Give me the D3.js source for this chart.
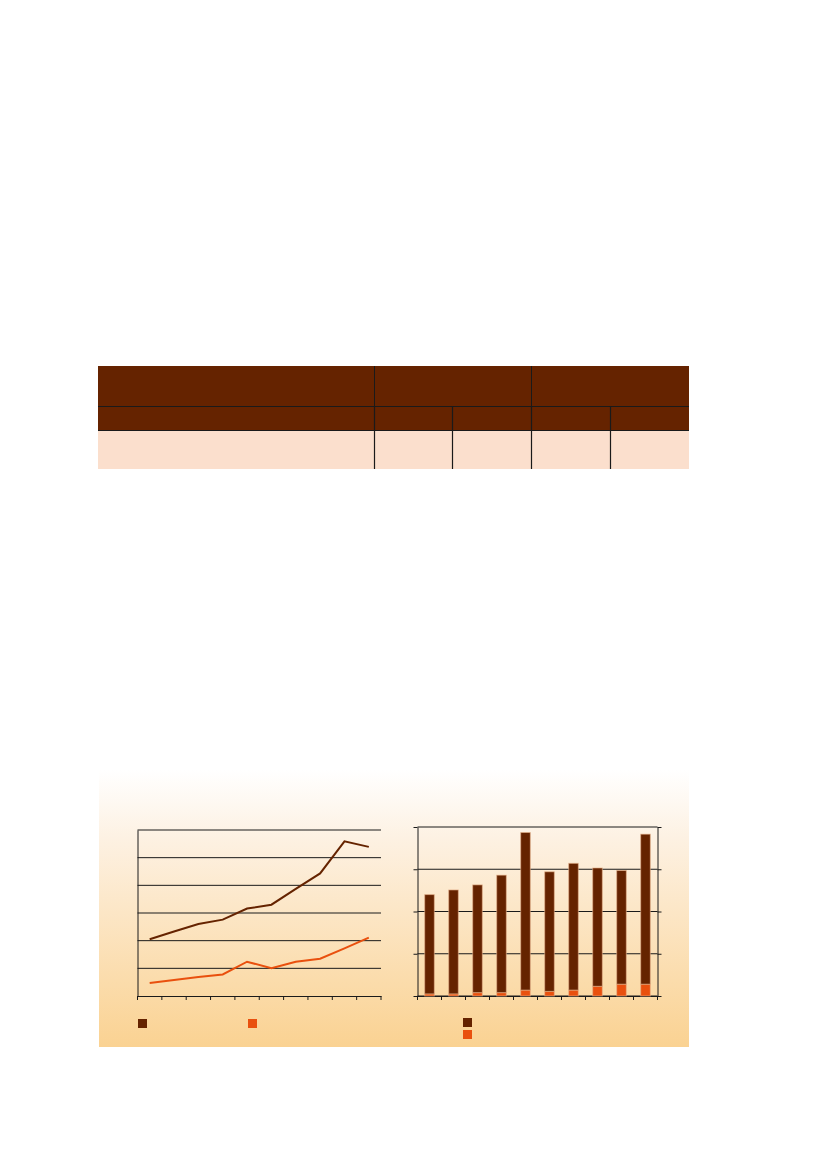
<!DOCTYPE html>
<html>
<head>
<meta charset="utf-8">
<script src="https://cdn.jsdelivr.net/npm/d3@7"></script>
<style>
  html, body { margin: 0; padding: 0; background: #fff; }
  svg { display: block; }
</style>
</head>
<body>
<div id="page"></div>
<script>
// ---- data (no labels visible in the reference) ----
var years = ["y1", "y2", "y3", "y4", "y5", "y6", "y7", "y8", "y9", "y10"];

// line chart: two series, axis 0..60
var lineDark = [20.5, 23.3, 26.0, 27.6, 31.6, 33.0, 38.7, 44.3, 55.9, 53.9];
var lineOrange = [4.7, 5.8, 6.9, 7.8, 12.4, 10.0, 12.4, 13.5, 17.2, 21.1];

// stacked bars: axis 0..400
var barBase = [5, 5, 8, 8, 14, 11, 14, 23, 28, 28];
var barTop = [235, 246, 255, 278, 373, 283, 300, 280, 269, 355];

// table: column widths of the 5 columns
var tableCols = [276, 78, 79, 79, 79];

var dark = "#652300", orange = "#E9500E", pink = "#FBDFCD", ink = "#1a1a1a";

var W = 827, H = 1169;
var svg = d3.select("#page").append("svg")
    .attr("width", W)
    .attr("height", H);

// ---- table ----
var tx = 98, ty = 366;
var rowH = [40, 24, 39];
var colX = [tx];
tableCols.forEach(function(w, i) { colX.push(colX[i] + w); });
var tRight = colX[colX.length - 1];

var table = svg.append("g").attr("class", "table");
table.append("rect").attr("x", tx).attr("y", ty).attr("width", tRight - tx).attr("height", rowH[0] + rowH[1]).attr("fill", dark);
table.append("rect").attr("x", tx).attr("y", ty + rowH[0] + rowH[1]).attr("width", tRight - tx).attr("height", rowH[2]).attr("fill", pink);

// horizontal rules
[ty + rowH[0], ty + rowH[0] + rowH[1]].forEach(function(y) {
    table.append("line").attr("x1", tx).attr("x2", tRight).attr("y1", y + 0.5).attr("y2", y + 0.5)
        .attr("stroke", ink).attr("stroke-width", 1);
});
// vertical rules: header spans
[colX[1], colX[3]].forEach(function(x) {
    table.append("line").attr("x1", x + 0.5).attr("x2", x + 0.5).attr("y1", ty).attr("y2", ty + rowH[0])
        .attr("stroke", ink).attr("stroke-width", 1);
});
colX.slice(1, 5).forEach(function(x) {
    table.append("line").attr("x1", x + 0.5).attr("x2", x + 0.5).attr("y1", ty + rowH[0]).attr("y2", ty + rowH[0] + rowH[1] + rowH[2])
        .attr("stroke", ink).attr("stroke-width", 1.2);
});

// ---- chart panel with gradient ----
var defs = svg.append("defs");
var grad = defs.append("linearGradient").attr("id", "panelGrad")
    .attr("x1", 0).attr("y1", 0).attr("x2", 0).attr("y2", 1);
grad.append("stop").attr("offset", "0%").attr("stop-color", "#ffffff");
grad.append("stop").attr("offset", "25%").attr("stop-color", "#fdf1e2");
grad.append("stop").attr("offset", "100%").attr("stop-color", "#fad292");

svg.append("rect")
    .attr("x", 99).attr("y", 770)
    .attr("width", 590).attr("height", 277)
    .attr("fill", "url(#panelGrad)");

// ---- line chart ----
var lm = {left: 137.5, right: 381, top: 830, bottom: 996};
var lx = d3.scaleBand().domain(years).range([lm.left, lm.right]);
var ly = d3.scaleLinear().domain([0, 60]).range([lm.bottom, lm.top]);

var lg = svg.append("g");
lg.append("g")
    .selectAll("line")
    .data(ly.ticks(6).filter(function(d) { return d > 0; }))
    .enter().append("line")
    .attr("x1", lm.left).attr("x2", lm.right)
    .attr("y1", function(d) { return ly(d); }).attr("y2", function(d) { return ly(d); })
    .attr("stroke", ink).attr("stroke-width", 1);

lg.append("g")
    .attr("transform", "translate(0," + lm.bottom + ")")
    .call(d3.axisBottom(lx).tickSize(0).tickFormat(""))
    .call(function(g) {
        g.select(".domain").attr("stroke", ink);
        var edges = years.map(function(d) { return lx(d); }).concat([lm.right]);
        g.selectAll(".edge").data(edges).enter().append("line")
            .attr("class", "edge")
            .attr("x1", function(d) { return d; }).attr("x2", function(d) { return d; })
            .attr("y1", 0).attr("y2", 4).attr("stroke", ink);
    });

lg.append("g")
    .attr("transform", "translate(" + lm.left + ",0)")
    .call(d3.axisLeft(ly).ticks(6).tickSize(0).tickFormat(""))
    .call(function(g) { g.select(".domain").attr("stroke", ink); });

var line = d3.line()
    .x(function(d, i) { return lx(years[i]) + lx.bandwidth() / 2; })
    .y(function(d) { return ly(d); });

lg.append("path").datum(lineDark).attr("d", line)
    .attr("fill", "none").attr("stroke", dark).attr("stroke-width", 2);
lg.append("path").datum(lineOrange).attr("d", line)
    .attr("fill", "none").attr("stroke", orange).attr("stroke-width", 2);

// legend squares
[[138, dark], [248, orange]].forEach(function(s) {
    lg.append("rect").attr("x", s[0]).attr("y", 1019).attr("width", 9).attr("height", 9)
        .attr("fill", s[1]);
});

// ---- stacked bar chart ----
var bm = {left: 417.5, right: 657.5, top: 827, bottom: 996};
var bx = d3.scaleBand().domain(years).range([bm.left, bm.right]).paddingInner(0.6).paddingOuter(0.3);
var by = d3.scaleLinear().domain([0, 400]).range([bm.bottom, bm.top]);

var bg = svg.append("g");
bg.append("g")
    .selectAll("line")
    .data(by.ticks(4))
    .enter().append("line")
    .attr("x1", bm.left).attr("x2", bm.right)
    .attr("y1", function(d) { return by(d); }).attr("y2", function(d) { return by(d); })
    .attr("stroke", ink).attr("stroke-width", 1);

bg.append("g")
    .attr("transform", "translate(" + bm.left + ",0)")
    .call(d3.axisLeft(by).ticks(4).tickSize(4).tickSizeOuter(0).tickFormat(""))
    .call(function(g) { g.selectAll("line, .domain").attr("stroke", ink); });
bg.append("g")
    .attr("transform", "translate(" + bm.right + ",0)")
    .call(d3.axisRight(by).ticks(4).tickSize(4).tickSizeOuter(0).tickFormat(""))
    .call(function(g) { g.selectAll("line, .domain").attr("stroke", ink); });

var step = (bm.right - bm.left) / years.length;
bg.append("g")
    .attr("transform", "translate(0," + bm.bottom + ")")
    .call(d3.axisBottom(bx).tickSize(0).tickSizeOuter(0).tickFormat(""))
    .call(function(g) {
        g.select(".domain").attr("stroke", ink);
        var edges = d3.range(years.length + 1).map(function(i) { return bm.left + i * step; });
        g.selectAll(".edge").data(edges).enter().append("line")
            .attr("class", "edge")
            .attr("x1", function(d) { return d; }).attr("x2", function(d) { return d; })
            .attr("y1", 0).attr("y2", 4).attr("stroke", ink);
    });

var stackData = years.map(function(y, i) { return {year: y, base: barBase[i], top: barTop[i]}; });
var series = d3.stack().keys(["base", "top"])(stackData);
var barColors = {base: orange, top: dark};

bg.selectAll(".series")
    .data(series)
    .enter().append("g")
    .attr("class", "series")
    .attr("fill", function(s) { return barColors[s.key]; })
    .selectAll("rect")
    .data(function(s) { return s; })
    .enter().append("rect")
    .attr("x", function(d) { return bx(d.data.year); })
    .attr("y", function(d) { return by(d[1]); })
    .attr("width", bx.bandwidth())
    .attr("height", function(d) { return by(d[0]) - by(d[1]); })
    .attr("stroke", "#e8b48c")
    .attr("stroke-opacity", 0.6)
    .attr("stroke-width", 1);

// legend squares
[[1018, dark], [1030, orange]].forEach(function(s) {
    bg.append("rect").attr("x", 463).attr("y", s[0]).attr("width", 9).attr("height", 9)
        .attr("fill", s[1]);
});
</script>
</body>
</html>
